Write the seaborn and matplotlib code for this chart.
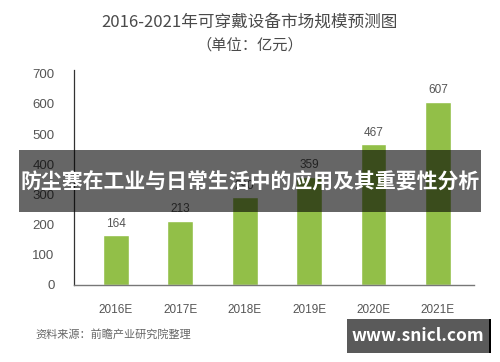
import matplotlib
matplotlib.use('Agg')
import matplotlib.pyplot as plt
import seaborn as sns
import pandas as pd
from matplotlib.patches import Rectangle

# chart data
years = ['2016E', '2017E', '2018E', '2019E', '2020E', '2021E']
market_size = [164, 213, 290, 359, 467, 607]
y_ticks = [0, 100, 200, 300, 400, 500, 600, 700]

title_text = '2016-2021年可穿戴设备市场规模预测图'
unit_text = '（单位：亿元）'
source_text = '资料来源：前瞻产业研究院整理'
banner_text = '防尘塞在工业与日常生活中的应用及其重要性分析'
site_text = 'www.snicl.com'

sns.set_style('white')
plt.rcParams['font.family'] = ['Noto Sans CJK SC', 'DejaVu Sans']
num_font = ['Liberation Sans', 'DejaVu Sans']

df = pd.DataFrame({'Year': years, 'Size': market_size})

fig = plt.figure(figsize=(5, 3.62), dpi=100)
ax = fig.add_axes([0.148, 0.213, 0.80, 0.594])

sns.barplot(x='Year', y='Size', data=df, color='#92bf48', width=0.4,
            saturation=1, ax=ax)

# value labels above bars
for i, v in enumerate(market_size):
    ax.text(i, v + 18, str(v), ha='center', va='bottom', fontsize=8.5,
            color='#555555', family=num_font)

ax.set_xlim(-0.65, 5.56)
ax.set_ylim(0, 713)
ax.set_yticks(y_ticks)
ax.tick_params(axis='y', labelsize=9.5, colors='#555555', length=0, pad=14)
ax.tick_params(axis='x', labelsize=8.5, colors='#555555', length=0, pad=14)
for lbl in ax.get_xticklabels() + ax.get_yticklabels():
    lbl.set_family(num_font)
ax.set_xlabel('')
ax.set_ylabel('')
for side in ['top', 'right']:
    ax.spines[side].set_visible(False)
ax.spines['left'].set_color('#333333')
ax.spines['bottom'].set_color('#777777')
ax.spines['left'].set_linewidth(0.9)
ax.spines['bottom'].set_linewidth(1.0)

# titles
fig.text(0.5, 0.94, title_text, ha='center', va='center', fontsize=12,
         color='#4a4a4a')
fig.text(0.5, 0.876, unit_text, ha='center', va='center', fontsize=11,
         color='#4a4a4a')

# source note
fig.text(0.07, 0.075, source_text, ha='left', va='center', fontsize=8,
         color='#666666')

# overlay banner
fig.patches.append(Rectangle((0.038, 0.414), 0.924, 0.171,
                             transform=fig.transFigure, facecolor='black',
                             alpha=0.6, edgecolor='none', zorder=10))
fig.text(0.5, 0.497, banner_text, ha='center', va='center', fontsize=15,
         color='white', fontweight='bold', zorder=11)

# watermark box
fig.patches.append(Rectangle((0.694, 0.025), 0.286, 0.094,
                             transform=fig.transFigure, facecolor='#5a5a5a',
                             edgecolor='none', zorder=10))
fig.patches.append(Rectangle((0.978, 0.025), 0.004, 0.094,
                             transform=fig.transFigure, facecolor='black',
                             edgecolor='none', zorder=10))
fig.text(0.835, 0.073, site_text, ha='center', va='center', fontsize=12.5,
         color='white', fontweight='bold', zorder=11)

fig.savefig('out.png', dpi=100)
